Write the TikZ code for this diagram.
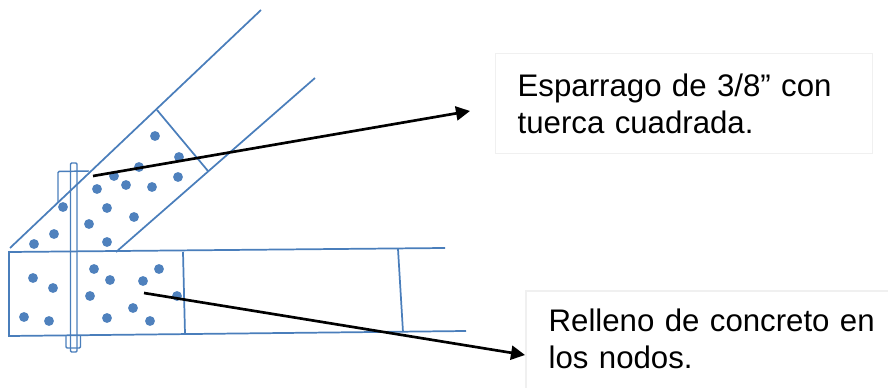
\documentclass[tikz,border=0pt]{standalone}
\usepackage{fontspec}
\setmainfont{Liberation Sans}
\usetikzlibrary{arrows.meta}
\definecolor{TrussBlue}{HTML}{4A7EBB}
\definecolor{DotBlue}{HTML}{4F81BD}
\definecolor{NoteGray}{HTML}{F0F0F0}
\tikzset{
  truss/.style={draw=TrussBlue,line width=1.3pt},
  nutline/.style={draw=TrussBlue,line width=1.1pt,rounded corners=.8pt},
  fillerdot/.style={circle,fill=DotBlue,inner sep=0pt,minimum size=7.4pt},
  notebox/.style={draw=NoteGray,line width=1pt,anchor=north west,align=left,inner ysep=0pt,
    font=\fontsize{23.4}{27.7}\selectfont},
  callout/.style={black,line width=2pt,-{Triangle[length=10.5pt,width=10.5pt]}}
}

\begin{document}
\begin{tikzpicture}[x=.75pt,y=-.75pt]
   \useasboundingbox (0,0) rectangle (888,388);

   % diagonal member
   \draw[truss] (10,248) -- (261,10);
   \draw[truss] (116,252) -- (315,78);
   \draw[truss] (157,110) -- (208,171);

   % bottom chord
   \draw[truss] (445,248) -- (9,252) -- (9,336) -- (466,331);
   \draw[truss] (183,252) -- (185,334);
   \draw[truss] (398,249) -- (403,332);

   % threaded rod and nuts
   \draw[nutline] (58,203) -- (58,171.5) -- (89,171);
   \draw[nutline] (70.5,352) -- (70.5,163) -- (77,163) -- (77,352) -- cycle;
   \draw[nutline] (66,336) -- (66,348) -- (80.5,348) -- (80.5,336);

   % concrete filling
   \foreach \dotx/\doty in {155/136,179/157,139/167,114/176,97/189,126/185,152/187,178/177,
      107/208,134/217,89/224,107/242,63/207,54/234,34/244,
      33/278,53/288,24/317,49/321,94/269,110/280,143/281,159/269,
      90/296,177/296,133/308,107/318,150/321}
      \node[fillerdot] at (\dotx,\doty) {};

   % notes
   \node[notebox,text width=249.75pt,inner xsep=16.5pt,minimum height=75pt] (esparrago) at (495,53)
      {Esparrago de 3/8” con\\tuerca cuadrada.};
   \draw[draw=NoteGray,line width=1pt] (526,388) -- (526,291) -- (888,291);
   \node[notebox,draw=none,text width=250pt,inner xsep=0pt] (relleno) at (548,308)
      {Relleno de concreto en\\los nodos.};

   \coordinate (rodtail) at (93,176);
   \coordinate (rodtip) at (470,111);
   \coordinate (filltail) at (144,293);
   \coordinate (filltip) at (525,355);
   \draw[callout] (rodtail) -- (rodtip);
   \draw[callout] (filltail) -- (filltip);
\end{tikzpicture}
\end{document}
